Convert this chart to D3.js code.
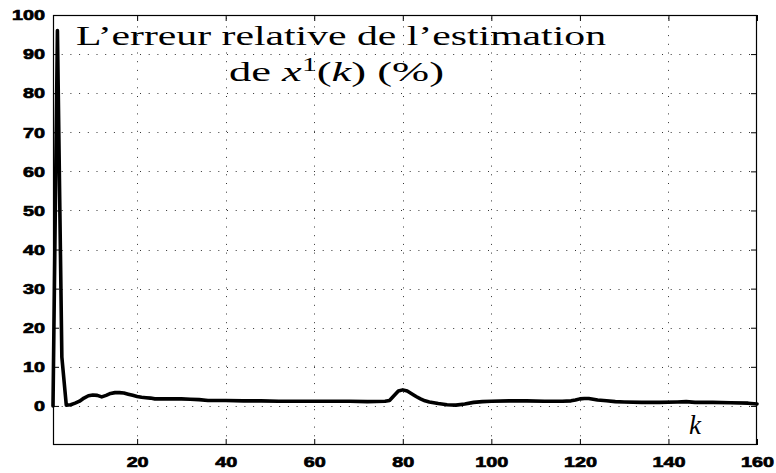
<!DOCTYPE html>
<html>
<head>
<meta charset="utf-8">
<script src="https://cdn.jsdelivr.net/npm/d3@7"></script>
<style>
  html, body { margin: 0; padding: 0; background: #fff; }
  svg { display: block; }
  .title { font-family: "Liberation Serif", "DejaVu Serif", serif; font-size: 27px; fill: #000; }
</style>
</head>
<body>
<svg id="chart" width="776" height="473"></svg>
<script>
// Iteration index k and relative estimation error of x^1(k), in percent
const kValues = [1,2,3,4,5,6,7,8,9,10,11,12,13,14,15,16,17,18,19,20,21,22,23,24,26,28,30,32,34,36,38,40,44,48,52,56,60,64,68,72,76,77,78,79,80,81,82,83,84,85,86,88,90,92,94,96,98,100,104,108,112,116,118,119,120,121,122,123,124,126,128,130,134,138,142,144,146,150,154,158,160];
const errorValues = [0,96,12.5,0.2,0.3,0.7,1.2,2.0,2.6,2.8,2.7,2.3,2.7,3.2,3.4,3.4,3.3,3.0,2.7,2.4,2.2,2.1,2.0,1.8,1.8,1.8,1.8,1.7,1.6,1.4,1.4,1.4,1.3,1.3,1.2,1.2,1.2,1.2,1.2,1.1,1.2,1.4,2.6,3.8,4.1,3.8,3.1,2.4,1.8,1.3,1.0,0.6,0.3,0.2,0.5,0.9,1.1,1.2,1.3,1.3,1.2,1.2,1.3,1.5,1.8,1.9,1.9,1.7,1.5,1.3,1.1,1.0,0.9,0.9,1.0,1.1,0.9,0.9,0.8,0.7,0.5];
const xTicks = [20,40,60,80,100,120,140,160];
const yTicks = [0,10,20,30,40,50,60,70,80,90,100];
const titleLine1 = "L\u2019erreur relative de l\u2019estimation";

const svg = d3.select("#chart");
const plotLeft = 53, plotRight = 757, plotTop = 15, plotBottom = 445;

const x = d3.scaleLinear().domain([1, 160]).range([plotLeft, plotRight]);
const y = d3.scaleLinear().domain([-10, 100]).range([plotBottom, plotTop]);

// dotted grid
const grid = svg.append("g").attr("stroke", "#333").attr("stroke-width", 1)
  .attr("stroke-dasharray", "1,7.7").attr("fill", "none");
grid.selectAll("line.gx").data(xTicks.filter(t => t < 160)).join("line")
  .attr("x1", d => Math.round(x(d)) + 0.5).attr("x2", d => Math.round(x(d)) + 0.5)
  .attr("y1", plotBottom).attr("y2", plotTop);
grid.selectAll("line.gy").data(yTicks.filter(t => t < 100)).join("line")
  .attr("y1", d => Math.round(y(d)) + 0.5).attr("y2", d => Math.round(y(d)) + 0.5)
  .attr("x1", plotLeft).attr("x2", plotRight);

// axes with inward ticks, mirrored on top and right
const tickLen = 6;
const axB = d3.axisBottom(x).tickValues(xTicks).tickSize(-tickLen).tickPadding(11).tickFormat(d3.format("d"));
const axT = d3.axisTop(x).tickValues(xTicks).tickSize(-tickLen).tickFormat("");
const axL = d3.axisLeft(y).tickValues(yTicks).tickSize(-tickLen).tickPadding(8).tickFormat(d3.format("d"));
const axR = d3.axisRight(y).tickValues(yTicks).tickSize(-tickLen).tickFormat("");

function styleAxis(g) {
  g.select(".domain").remove();
  g.attr("font-family", null).attr("font-size", null);
  g.selectAll(".tick line").attr("stroke", "#000");
  g.selectAll(".tick text")
    .style("font-family", "'Liberation Sans', Arial, Helvetica, sans-serif")
    .style("font-weight", "700")
    .style("font-size", "15px")
    .attr("fill", "#000")
    .attr("stroke", "#000")
    .attr("stroke-width", 0.7)
    .attr("lengthAdjust", "spacingAndGlyphs")
    .attr("textLength", function () { return this.textContent.length * 11; });
}
svg.append("g").attr("transform", `translate(0,${plotBottom})`).call(axB).call(styleAxis);
svg.append("g").attr("transform", `translate(0,${plotTop})`).call(axT).call(styleAxis);
svg.append("g").attr("transform", `translate(${plotLeft},0)`).call(axL).call(styleAxis);
svg.append("g").attr("transform", `translate(${plotRight},0)`).call(axR).call(styleAxis);

// frame
svg.append("rect").attr("x", plotLeft + 0.5).attr("y", plotTop + 0.5)
  .attr("width", plotRight - plotLeft - 1).attr("height", plotBottom - plotTop - 1)
  .attr("fill", "none").attr("stroke", "#000").attr("stroke-width", 1.2);

// error curve
const data = kValues.map((k, i) => ({ k, e: errorValues[i] }));
svg.append("path").datum(data)
  .attr("fill", "none").attr("stroke", "#000").attr("stroke-width", 3.6)
  .attr("stroke-linejoin", "round").attr("stroke-linecap", "round")
  .attr("d", d3.line().x(d => x(d.k)).y(d => y(d.e)));

// title
svg.append("text").attr("class", "title").attr("x", 76).attr("y", 45)
  .attr("textLength", 530).attr("lengthAdjust", "spacingAndGlyphs")
  .text(titleLine1);
const t2 = svg.append("text").attr("class", "title").attr("x", 229).attr("y", 81)
  .attr("textLength", 215).attr("lengthAdjust", "spacingAndGlyphs");
t2.append("tspan").text("de ");
t2.append("tspan").attr("font-style", "italic").text("x");
t2.append("tspan").attr("font-size", "18px").attr("dy", -10).text("1");
t2.append("tspan").attr("dy", 10).text("(");
t2.append("tspan").attr("font-style", "italic").text("k");
t2.append("tspan").text(") (%)");

// axis variable
svg.append("text").attr("class", "title").attr("font-style", "italic")
  .attr("x", 689).attr("y", 434).text("k");
</script>
</body>
</html>
